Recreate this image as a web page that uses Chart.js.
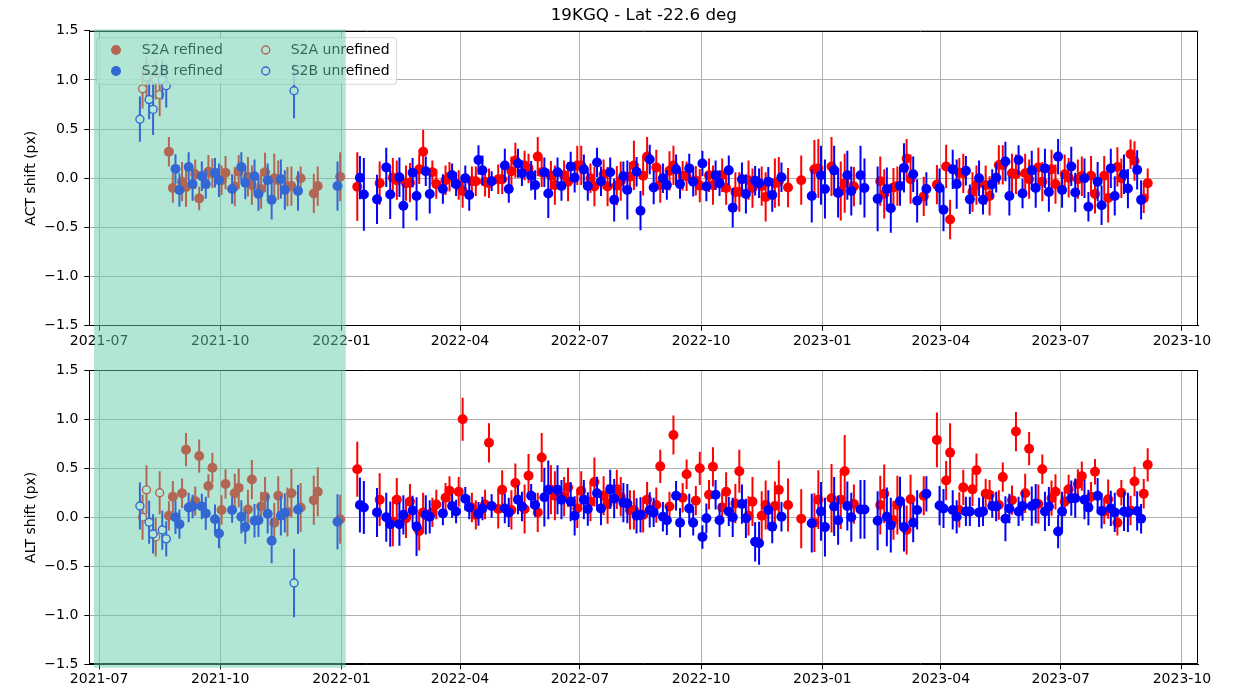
<!DOCTYPE html>
<html>
<head>
<meta charset="utf-8">
<title>19KGQ shifts</title>
<script src="https://cdn.jsdelivr.net/npm/chart.js@4.4.0/dist/chart.umd.min.js"></script>
<style>
  html, body { margin: 0; padding: 0; background: #fff; }
  #wrap { position: relative; width: 1233px; height: 691px; }
  canvas { position: absolute; left: 0; }
  #actChart { top: 0; }
  #altChart { top: 347px; }
</style>
</head>
<body>
<div id="wrap">
  <canvas id="actChart" width="1233" height="347"></canvas>
  <canvas id="altChart" width="1233" height="344"></canvas>
</div>
<script>
// ---------------- data ----------------
const tileTitle = '19KGQ - Lat -22.6 deg';
const seriesLabels = ['S2A refined', 'S2B refined', 'S2A unrefined', 'S2B unrefined'];
const xTickLabels = ['2021-07', '2021-10', '2022-01', '2022-04', '2022-07', '2022-10', '2023-01', '2023-04', '2023-07', '2023-10'];
const xLimits = ['2021-06-23T14:00:00Z', '2023-10-13T10:00:00Z'];
// acquisitions before the refinement became operational
const initialWindow = ['2021-06-27T05:00:00Z', '2022-01-04T06:00:00Z'];

// S2A, refined
const s2aDates = [
  '2021-08-23','2021-08-26','2021-09-02','2021-09-05','2021-09-12','2021-09-15','2021-09-22','2021-09-25','2021-10-02','2021-10-05','2021-10-12','2021-10-15',
  '2021-10-22','2021-10-25','2021-11-01','2021-11-04','2021-11-11','2021-11-14','2021-11-21','2021-11-24','2021-12-01','2021-12-11','2021-12-14','2021-12-31',
  '2022-01-13','2022-01-30','2022-02-09','2022-02-12','2022-02-19','2022-02-22','2022-03-01','2022-03-04','2022-03-11','2022-03-14','2022-03-21','2022-03-24',
  '2022-03-31','2022-04-03','2022-04-10','2022-04-13','2022-04-20','2022-04-23','2022-04-30','2022-05-03','2022-05-10','2022-05-13','2022-05-20','2022-05-23',
  '2022-05-30','2022-06-02','2022-06-09','2022-06-12','2022-06-19','2022-06-22','2022-06-29','2022-07-02','2022-07-09','2022-07-12','2022-07-19','2022-07-22',
  '2022-07-29','2022-08-01','2022-08-08','2022-08-11','2022-08-18','2022-08-21','2022-08-28','2022-08-31','2022-09-07','2022-09-10','2022-09-17','2022-09-20',
  '2022-09-27','2022-09-30','2022-10-07','2022-10-10','2022-10-17','2022-10-20','2022-10-27','2022-10-30','2022-11-06','2022-11-09','2022-11-16','2022-11-19',
  '2022-11-26','2022-11-29','2022-12-06','2022-12-16','2022-12-26','2022-12-29','2023-01-08','2023-01-15','2023-01-18','2023-01-25','2023-02-14','2023-02-17',
  '2023-02-24','2023-02-27','2023-03-06','2023-03-09','2023-03-19','2023-03-29','2023-04-05','2023-04-08','2023-04-15','2023-04-18','2023-04-25','2023-04-28',
  '2023-05-05','2023-05-08','2023-05-15','2023-05-18','2023-05-25','2023-05-28','2023-06-04','2023-06-07','2023-06-14','2023-06-17','2023-06-24','2023-06-27',
  '2023-07-04','2023-07-07','2023-07-14','2023-07-17','2023-07-24','2023-07-27','2023-08-03','2023-08-06','2023-08-13','2023-08-16','2023-08-23','2023-08-26',
  '2023-09-02','2023-09-05'
];
const s2aAct = [
  0.27,-0.10,-0.035,-0.09,0.04,-0.205,0.065,0.05,-0.02,0.055,-0.085,0.065,
  0.015,-0.07,-0.11,0.06,0.0,-0.02,-0.085,-0.08,0.0,-0.155,-0.08,0.015,
  -0.086,-0.05,0.005,-0.02,-0.05,-0.045,0.09,0.27,0.06,-0.06,-0.02,0.015,
  -0.07,-0.13,-0.03,-0.03,-0.035,-0.05,-0.01,-0.01,0.07,0.18,0.13,0.1,
  0.22,0.06,0.025,-0.07,0.03,-0.035,0.13,0.13,0.0,-0.085,0.04,-0.085,
  -0.075,-0.03,0.015,0.13,0.025,0.22,0.11,-0.07,0.075,0.13,0.025,0.02,
  -0.025,-0.075,0.03,-0.07,0.03,-0.1,-0.14,-0.14,-0.02,-0.1,-0.08,-0.19,
  -0.05,-0.035,-0.095,-0.02,0.09,0.1,0.12,-0.13,-0.05,-0.085,-0.03,-0.16,
  -0.095,-0.08,0.2,-0.01,-0.185,-0.065,0.12,-0.42,0.055,0.05,-0.14,-0.07,
  -0.07,-0.18,0.135,0.135,0.05,0.04,0.05,-0.01,0.11,-0.035,0.09,-0.06,
  0.04,0.005,-0.01,0.02,0.025,-0.16,0.025,-0.2,0.115,0.0,0.245,0.175,
  -0.205,-0.05
];
const s2aActErr = [
  0.15,0.15,0.2,0.2,0.15,0.12,0.17,0.15,0.15,0.17,0.2,0.17,
  0.2,0.2,0.2,0.2,0.25,0.2,0.2,0.2,0.12,0.2,0.2,0.25,
  0.35,0.22,0.2,0.2,0.18,0.2,0.15,0.22,0.12,0.15,0.15,0.15,
  0.15,0.17,0.15,0.15,0.15,0.15,0.15,0.15,0.15,0.18,0.15,0.15,
  0.2,0.15,0.15,0.2,0.15,0.2,0.2,0.2,0.15,0.2,0.15,0.2,
  0.2,0.2,0.15,0.25,0.2,0.2,0.18,0.18,0.2,0.2,0.15,0.15,
  0.15,0.17,0.17,0.2,0.17,0.17,0.2,0.2,0.2,0.2,0.2,0.25,
  0.25,0.25,0.2,0.25,0.3,0.3,0.3,0.3,0.3,0.2,0.25,0.25,
  0.2,0.2,0.2,0.25,0.2,0.2,0.22,0.2,0.15,0.2,0.2,0.2,
  0.2,0.2,0.2,0.2,0.2,0.2,0.2,0.2,0.2,0.2,0.2,0.2,
  0.2,0.2,0.2,0.2,0.2,0.2,0.2,0.25,0.2,0.2,0.15,0.2,
  0.15,0.15
];
const s2aAlt = [
  0.015,0.21,0.245,0.69,0.165,0.625,0.32,0.505,0.075,0.34,0.245,0.3,
  0.08,0.385,0.11,0.21,-0.055,0.22,0.055,0.245,0.1,0.175,0.26,-0.02,
  0.49,0.18,-0.045,0.18,-0.01,0.16,-0.14,0.05,0.05,0.13,0.2,0.27,
  0.26,1.0,0.1,0.025,0.13,0.76,0.085,0.28,0.075,0.35,0.085,0.425,
  0.05,0.61,0.28,0.22,0.21,0.305,0.09,0.27,0.16,0.36,0.22,0.135,
  0.285,0.21,0.075,0.075,0.025,0.18,0.125,0.52,0.11,0.84,0.2,0.44,
  0.17,0.5,0.23,0.515,0.1,0.26,0.14,0.47,0.015,0.16,0.015,0.125,
  0.115,0.28,0.125,-0.015,-0.055,0.18,0.195,0.18,0.47,0.135,0.125,0.24,
  -0.03,0.125,-0.13,0.185,0.22,0.79,0.375,0.66,0.075,0.305,0.285,0.48,
  0.24,0.23,0.125,0.41,0.175,0.875,0.245,0.7,0.135,0.49,0.195,0.26,
  0.16,0.285,0.34,0.42,0.21,0.465,0.06,0.185,-0.055,0.25,0.07,0.365,
  0.24,0.535
];
const s2aAltErr = [
  0.15,0.16,0.15,0.17,0.15,0.17,0.12,0.15,0.15,0.15,0.2,0.2,
  0.2,0.2,0.15,0.2,0.2,0.2,0.25,0.25,0.25,0.25,0.25,0.25,
  0.28,0.27,0.25,0.22,0.2,0.18,0.2,0.2,0.15,0.15,0.15,0.15,
  0.15,0.22,0.15,0.15,0.15,0.2,0.2,0.2,0.2,0.2,0.25,0.22,
  0.2,0.25,0.25,0.25,0.2,0.2,0.2,0.2,0.2,0.25,0.2,0.2,
  0.2,0.2,0.2,0.2,0.18,0.18,0.18,0.17,0.15,0.2,0.15,0.15,
  0.15,0.17,0.15,0.2,0.15,0.2,0.2,0.22,0.2,0.25,0.25,0.25,
  0.25,0.3,0.27,0.3,0.3,0.3,0.35,0.3,0.37,0.2,0.3,0.3,
  0.2,0.3,0.25,0.25,0.2,0.28,0.2,0.3,0.18,0.18,0.17,0.17,
  0.15,0.15,0.15,0.15,0.15,0.2,0.2,0.17,0.2,0.15,0.18,0.18,
  0.15,0.15,0.15,0.15,0.15,0.13,0.13,0.2,0.13,0.13,0.15,0.15,
  0.15,0.17
];

// S2B, refined
const s2bDates = [
  '2021-08-28','2021-08-31','2021-09-07','2021-09-10','2021-09-17','2021-09-20','2021-09-27','2021-09-30','2021-10-10','2021-10-17',
  '2021-10-20','2021-10-27','2021-10-30','2021-11-06','2021-11-09','2021-11-16','2021-11-19','2021-11-29','2021-12-29',
  '2022-01-15','2022-01-18','2022-01-28','2022-02-04','2022-02-07','2022-02-14','2022-02-17','2022-02-24','2022-02-27','2022-03-06','2022-03-09','2022-03-19',
  '2022-03-26','2022-03-29','2022-04-05','2022-04-08','2022-04-15','2022-04-18','2022-04-25','2022-05-05','2022-05-08','2022-05-15','2022-05-18','2022-05-25',
  '2022-05-28','2022-06-04','2022-06-07','2022-06-14','2022-06-17','2022-06-24','2022-06-27','2022-07-04','2022-07-07','2022-07-14','2022-07-17','2022-07-24',
  '2022-07-27','2022-08-03','2022-08-06','2022-08-13','2022-08-16','2022-08-23','2022-08-26','2022-09-02','2022-09-05','2022-09-12','2022-09-15','2022-09-22',
  '2022-09-25','2022-10-02','2022-10-05','2022-10-12','2022-10-15','2022-10-22','2022-10-25','2022-11-01','2022-11-04','2022-11-11','2022-11-14','2022-11-21',
  '2022-11-24','2022-12-01','2022-12-24','2022-12-31','2023-01-03','2023-01-10','2023-01-13','2023-01-20','2023-01-23','2023-01-30','2023-02-02','2023-02-12',
  '2023-02-19','2023-02-22','2023-03-01','2023-03-04','2023-03-11','2023-03-14','2023-03-21','2023-03-31','2023-04-03','2023-04-10','2023-04-13','2023-04-20',
  '2023-04-23','2023-04-30','2023-05-03','2023-05-10','2023-05-13','2023-05-20','2023-05-23','2023-05-30','2023-06-02','2023-06-09','2023-06-12','2023-06-19',
  '2023-06-22','2023-06-29','2023-07-02','2023-07-09','2023-07-12','2023-07-19','2023-07-22','2023-07-29','2023-08-01','2023-08-08','2023-08-11','2023-08-18',
  '2023-08-21','2023-08-28','2023-08-31'
];
const s2bAct = [
  0.095,-0.12,0.115,-0.06,0.02,-0.06,0.055,-0.02,-0.11,0.115,
  -0.045,0.02,-0.16,-0.02,-0.22,-0.01,-0.12,-0.13,-0.08,
  0.005,-0.165,-0.215,0.11,-0.165,0.01,-0.28,0.055,-0.18,0.07,-0.16,-0.11,
  0.03,-0.06,0.0,-0.17,0.185,0.08,-0.03,0.13,-0.11,0.15,0.05,0.025,
  -0.07,0.06,-0.155,0.06,-0.08,0.12,0.005,0.09,-0.08,0.16,-0.03,0.06,
  -0.22,0.02,-0.12,0.065,-0.33,0.19,-0.095,0.0,-0.07,0.09,-0.06,0.1,
  -0.035,0.15,-0.085,0.03,-0.05,0.08,-0.3,-0.01,-0.16,-0.025,-0.05,-0.035,
  -0.17,0.01,-0.18,0.03,-0.11,0.08,-0.15,0.03,-0.13,0.03,-0.1,-0.21,
  -0.11,-0.305,-0.08,0.105,0.04,-0.23,-0.11,-0.1,-0.32,0.09,-0.06,0.075,
  -0.215,0.0,-0.22,-0.06,0.005,0.17,-0.18,0.185,-0.155,0.08,-0.1,0.1,
  -0.14,0.22,-0.12,0.12,-0.145,0.0,-0.29,-0.035,-0.275,0.1,-0.18,0.04,
  -0.105,0.085,-0.22
];
const s2bActErr = [
  0.15,0.17,0.15,0.17,0.15,0.15,0.15,0.17,0.15,0.15,
  0.17,0.17,0.17,0.17,0.2,0.2,0.2,0.2,0.25,
  0.22,0.37,0.25,0.2,0.25,0.2,0.23,0.15,0.25,0.15,0.2,0.15,
  0.12,0.12,0.13,0.16,0.15,0.15,0.1,0.17,0.14,0.15,0.13,0.15,
  0.15,0.15,0.25,0.15,0.15,0.15,0.15,0.15,0.15,0.15,0.15,0.15,
  0.22,0.15,0.3,0.15,0.2,0.15,0.17,0.15,0.15,0.15,0.15,0.15,
  0.15,0.13,0.15,0.15,0.13,0.15,0.2,0.17,0.2,0.15,0.15,0.15,
  0.17,0.15,0.27,0.3,0.3,0.25,0.25,0.25,0.25,0.3,0.3,0.33,
  0.22,0.25,0.2,0.25,0.18,0.22,0.17,0.2,0.22,0.2,0.25,0.15,
  0.15,0.18,0.15,0.15,0.15,0.2,0.2,0.15,0.15,0.2,0.2,0.2,
  0.2,0.18,0.18,0.2,0.2,0.2,0.15,0.2,0.2,0.2,0.2,0.2,
  0.2,0.2,0.2
];
const s2bAlt = [
  0.0,-0.07,0.10,0.11,0.11,0.04,-0.02,-0.165,0.075,0.005,
  -0.10,-0.035,-0.03,0.035,-0.24,0.015,0.045,0.08,-0.045,
  0.125,0.10,0.05,0.0,-0.07,-0.07,0.025,0.07,-0.095,0.025,0.005,0.04,
  0.115,0.06,0.19,0.10,0.035,0.09,0.115,0.09,0.05,0.18,0.11,0.22,
  0.125,0.205,0.28,0.28,0.18,0.16,0.015,0.18,0.085,0.245,0.09,0.285,
  0.19,0.15,0.14,0.015,0.025,0.075,0.05,0.005,-0.03,0.22,-0.055,0.09,
  -0.055,-0.2,-0.01,0.23,-0.03,0.06,0.0,0.135,-0.01,-0.25,-0.265,0.075,
  -0.095,0.005,-0.06,0.06,-0.1,0.11,-0.03,0.115,0.0,0.08,0.08,-0.035,
  0.005,-0.08,0.165,-0.1,-0.055,0.075,0.24,0.12,0.09,0.075,0.005,0.06,
  0.06,0.05,0.06,0.115,0.11,-0.015,0.09,0.06,0.115,0.115,0.14,0.06,
  0.11,-0.145,0.06,0.195,0.195,0.18,0.1,0.22,0.065,0.09,0.05,0.06,
  0.05,0.065,-0.015
];
const s2bAltErr = [
  0.17,0.15,0.15,0.12,0.13,0.17,0.15,0.15,0.13,0.17,
  0.17,0.17,0.17,0.2,0.23,0.2,0.2,0.25,0.28,
  0.28,0.27,0.25,0.25,0.23,0.22,0.2,0.15,0.3,0.2,0.17,0.12,
  0.12,0.12,0.12,0.12,0.12,0.12,0.12,0.15,0.15,0.15,0.15,0.12,
  0.12,0.3,0.3,0.25,0.2,0.2,0.2,0.2,0.17,0.17,0.17,0.2,
  0.2,0.2,0.2,0.18,0.18,0.18,0.15,0.15,0.15,0.15,0.15,0.15,
  0.13,0.12,0.15,0.15,0.17,0.15,0.2,0.2,0.2,0.2,0.22,0.2,
  0.17,0.15,0.3,0.3,0.3,0.3,0.25,0.25,0.25,0.3,0.3,0.3,
  0.3,0.28,0.25,0.25,0.2,0.2,0.18,0.2,0.2,0.2,0.17,0.15,
  0.15,0.15,0.15,0.12,0.15,0.23,0.15,0.15,0.15,0.2,0.2,0.2,
  0.2,0.17,0.2,0.18,0.2,0.2,0.18,0.18,0.18,0.18,0.2,0.2,
  0.2,0.2,0.15
];

// unrefined acquisitions
const s2aRawDates = ['2021-08-03', '2021-08-06', '2021-08-13', '2021-08-16'];
const s2aRawAct = [0.91, 1.03, 1.0, 0.85];
const s2aRawActErr = [0.2, 0.2, 0.2, 0.22];
const s2aRawAlt = [0.0, 0.28, -0.2, 0.25];
const s2aRawAltErr = [0.23, 0.25, 0.2, 0.22];

const s2bRawDates = ['2021-08-01', '2021-08-08', '2021-08-11', '2021-08-18', '2021-08-21', '2021-11-26'];
const s2bRawAct = [0.60, 0.80, 0.70, 1.0, 0.94, 0.89];
const s2bRawActErr = [0.23, 0.2, 0.26, 0.2, 0.22, 0.28];
const s2bRawAlt = [0.115, -0.05, -0.17, -0.13, -0.22, -0.67];
const s2bRawAltErr = [0.24, 0.22, 0.2, 0.2, 0.18, 0.35];

// ---------------- helpers ----------------
const RED = '#ff0000';
const BLUE = '#0000ff';
const SPAN_FILL = 'rgba(102, 205, 170, 0.5)';
const FONT = "'DejaVu Sans', sans-serif";

Chart.defaults.font.family = FONT;
Chart.defaults.font.size = 14;
Chart.defaults.color = '#000';

function dayNum(s) {
  return Date.parse(s.length === 10 ? s + 'T00:00:00Z' : s) / 86400000;
}

function errorBars(dates, vals, errs, color, order) {
  return {
    type: 'bar',
    order: order,
    grouped: false,
    barThickness: 2,
    inflateAmount: 0,
    borderWidth: 0,
    backgroundColor: color,
    data: dates.map((d, i) => ({ x: dayNum(d), y: [vals[i] - errs[i], vals[i] + errs[i]] }))
  };
}

function markers(label, dates, vals, color, hollow, order) {
  return {
    type: 'scatter',
    label: label,
    order: order,
    pointStyle: 'circle',
    pointRadius: hollow ? 4 : 5,
    pointBorderWidth: hollow ? 1.4 : 0,
    pointBackgroundColor: hollow ? '#ffffff' : color,
    pointBorderColor: color,
    data: dates.map((d, i) => ({ x: dayNum(d), y: vals[i] }))
  };
}

// legend frame in the upper-left corner, two columns
const legendBox = { left: 96.7, top: 37.7, width: 300, height: 46.6, markerX: [116, 265.7], textX: [141.7, 290.7], rowY: [50, 71] };

function drawLegend(chart) {
  const ctx = chart.ctx;
  const b = legendBox;
  ctx.save();
  ctx.beginPath();
  if (ctx.roundRect) ctx.roundRect(b.left, b.top, b.width, b.height, 3);
  else ctx.rect(b.left, b.top, b.width, b.height);
  ctx.fillStyle = 'rgba(255, 255, 255, 0.8)';
  ctx.fill();
  ctx.strokeStyle = 'rgba(204, 204, 204, 0.8)';
  ctx.lineWidth = 1;
  ctx.stroke();

  ctx.font = '14px ' + FONT;
  ctx.textBaseline = 'middle';
  ctx.textAlign = 'left';
  seriesLabels.forEach((label, k) => {
    const ds = chart.data.datasets.find(d => d.label === label);
    const col = Math.floor(k / 2), row = k % 2;
    const cx = b.markerX[col], cy = b.rowY[row];
    ctx.beginPath();
    ctx.arc(cx, cy, ds.pointRadius, 0, Math.PI * 2);
    ctx.fillStyle = ds.pointBackgroundColor;
    ctx.fill();
    if (ds.pointBorderWidth > 0) {
      ctx.lineWidth = ds.pointBorderWidth;
      ctx.strokeStyle = ds.pointBorderColor;
      ctx.stroke();
    }
    ctx.fillStyle = '#000';
    ctx.fillText(label, b.textX[col], cy + 0.5);
  });
  ctx.restore();
}

function decorPlugin(opts) {
  return {
    id: 'panelDecor',
    afterDatasetsDraw(chart) {
      const ctx = chart.ctx;
      const a = chart.chartArea;
      const l = Math.round(a.left) + 0.5, r = Math.round(a.right) - 0.5;
      const t = Math.round(a.top) + 0.5, btm = Math.round(a.bottom) - 0.5;
      ctx.save();
      ctx.strokeStyle = '#000';
      ctx.lineWidth = 1;
      ctx.beginPath();
      ctx.moveTo(l, t); ctx.lineTo(r, t); ctx.lineTo(r, btm); ctx.lineTo(l, btm); ctx.closePath();
      ctx.stroke();
      ctx.restore();
      if (opts.legend) drawLegend(chart);
    },
    afterDraw(chart) {
      const ctx = chart.ctx;
      const xs = chart.scales.x;
      const x0 = xs.getPixelForValue(dayNum(initialWindow[0]));
      const x1 = xs.getPixelForValue(dayNum(initialWindow[1]));
      const y0 = opts.spanTop(chart), y1 = opts.spanBottom(chart);
      ctx.save();
      ctx.fillStyle = SPAN_FILL;
      ctx.fillRect(x0, y0, x1 - x0, y1 - y0);
      ctx.restore();
    }
  };
}

function buildPanel(canvasId, p) {
  const datasets = [
    errorBars(s2aDates, p.a, p.aErr, RED, 8),
    markers(seriesLabels[0], s2aDates, p.a, RED, false, 7),
    errorBars(s2bDates, p.b, p.bErr, BLUE, 6),
    markers(seriesLabels[1], s2bDates, p.b, BLUE, false, 5),
    errorBars(s2aRawDates, p.ra, p.raErr, RED, 4),
    markers(seriesLabels[2], s2aRawDates, p.ra, RED, true, 3),
    errorBars(s2bRawDates, p.rb, p.rbErr, BLUE, 2),
    markers(seriesLabels[3], s2bRawDates, p.rb, BLUE, true, 1)
  ];

  return new Chart(document.getElementById(canvasId), {
    type: 'scatter',
    data: { datasets: datasets },
    options: {
      responsive: false,
      animation: false,
      events: [],
      layout: { padding: { left: 0, right: 34.7, top: p.padTop, bottom: 0 } },
      plugins: {
        legend: { display: false },
        tooltip: { enabled: false },
        title: {
          display: !!p.title,
          text: p.title || '',
          fullSize: false,
          color: '#000',
          font: { family: FONT, size: 16.7, weight: 'normal' },
          padding: { top: 6, bottom: 4.7 }
        }
      },
      scales: {
        x: {
          type: 'linear',
          min: dayNum(xLimits[0]),
          max: dayNum(xLimits[1]),
          offset: false,
          afterBuildTicks: s => { s.ticks = xTickLabels.map(l => ({ value: dayNum(l + '-01') })); },
          afterFit: s => { s.height = p.xAxisHeight; },
          grid: { color: '#b0b0b0', lineWidth: 1, tickColor: '#000', tickLength: 5, offset: false },
          border: { display: true, color: '#000', width: 1 },
          ticks: {
            autoSkip: false, maxRotation: 0, padding: 2, color: '#000',
            font: { family: FONT, size: 14 },
            callback: (v, i) => xTickLabels[i]
          }
        },
        y: {
          min: -1.5,
          max: 1.5,
          afterFit: s => { s.width = 89.3; },
          grid: { color: '#b0b0b0', lineWidth: 1, tickColor: '#000', tickLength: 5 },
          border: { display: true, color: '#000', width: 1 },
          ticks: {
            stepSize: 0.5, padding: 6, color: '#000',
            font: { family: FONT, size: 14 },
            callback: v => Number(v).toFixed(1).replace('-', '\u2212')
          },
          title: {
            display: true, text: p.yTitle, color: '#000',
            font: { family: FONT, size: 14 },
            padding: { top: 22.6, bottom: 0 }
          }
        }
      }
    },
    plugins: [decorPlugin(p)]
  });
}

buildPanel('actChart', {
  title: tileTitle,
  yTitle: 'ACT shift (px)',
  padTop: 0,
  xAxisHeight: 21.3,
  legend: true,
  a: s2aAct, aErr: s2aActErr, b: s2bAct, bErr: s2bActErr,
  ra: s2aRawAct, raErr: s2aRawActErr, rb: s2bRawAct, rbErr: s2bRawActErr,
  spanTop: c => c.chartArea.top - 1.4,
  spanBottom: c => c.height
});

buildPanel('altChart', {
  title: null,
  yTitle: 'ALT shift (px)',
  padTop: 23.3,
  xAxisHeight: 26.7,
  legend: false,
  a: s2aAlt, aErr: s2aAltErr, b: s2bAlt, bErr: s2bAltErr,
  ra: s2aRawAlt, raErr: s2aRawAltErr, rb: s2bRawAlt, rbErr: s2bRawAltErr,
  spanTop: c => 0,
  spanBottom: c => c.chartArea.bottom + 3.4
});
</script>
</body>
</html>
